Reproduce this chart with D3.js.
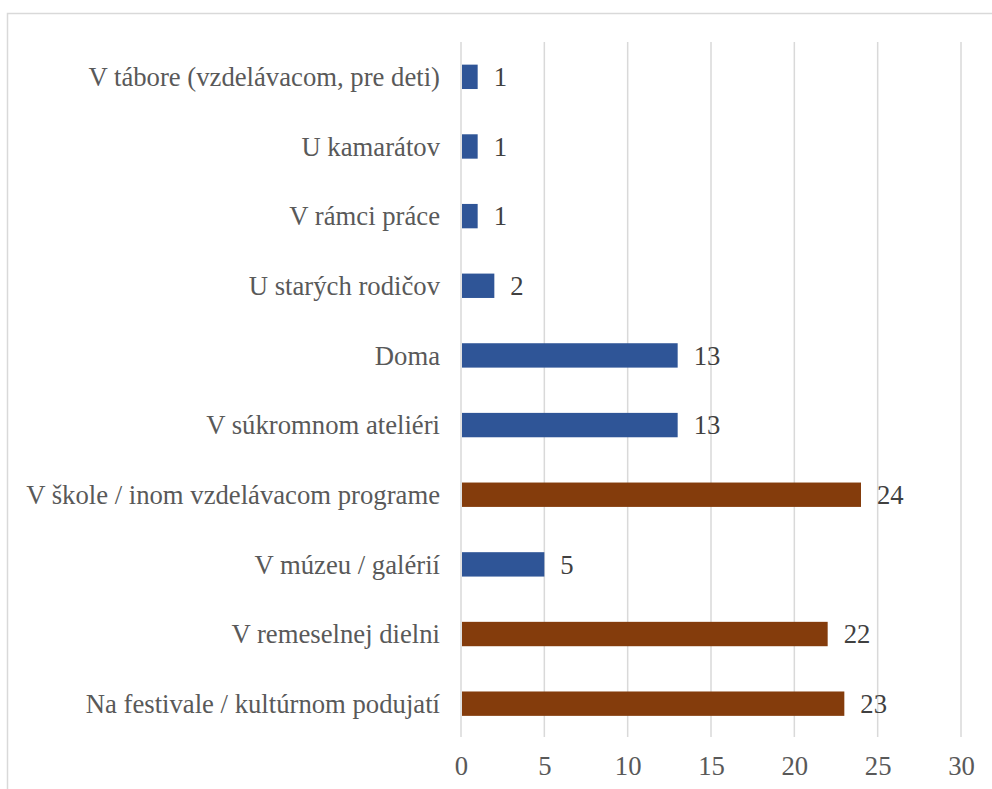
<!DOCTYPE html>
<html>
<head>
<meta charset="utf-8">
<script src="https://cdn.jsdelivr.net/npm/d3@7"></script>
</head>
<body style="margin:0">
<svg id="chart" width="992" height="789" font-family="Liberation Serif"></svg>
<script>
// categories top to bottom, as shown
var categories = [
  "V tábore (vzdelávacom, pre deti)",
  "U kamarátov",
  "V rámci práce",
  "U starých rodičov",
  "Doma",
  "V súkromnom ateliéri",
  "V škole / inom vzdelávacom programe",
  "V múzeu / galérií",
  "V remeselnej dielni",
  "Na festivale / kultúrnom podujatí"
];
var values = [1, 1, 1, 2, 13, 13, 24, 5, 22, 23];
// which bars are highlighted (brown)
var highlight = [false, false, false, false, false, false, true, false, true, true];
var xTicks = [0, 5, 10, 15, 20, 25, 30];

var width = 992, height = 789;
var margin = {top: 42, right: 31, bottom: 52, left: 461};
var fontSize = 26.7;

var svg = d3.select("#chart");

// outer chart border (cropped on right and bottom)
svg.append("rect")
  .attr("x", 7.5).attr("y", 13.5)
  .attr("width", 1000).attr("height", 1000)
  .attr("fill", "none")
  .attr("stroke", "#d9d9d9")
  .attr("stroke-width", 1.5);

var x = d3.scaleLinear()
  .domain([0, 30])
  .range([margin.left, width - margin.right]);

var y = d3.scaleBand()
  .domain(categories)
  .range([42, 738.5])
  .paddingInner(0.65)
  .paddingOuter(0.325);

// gridlines
svg.append("g")
  .selectAll("line")
  .data(xTicks)
  .enter().append("line")
    .attr("x1", d => x(d)).attr("x2", d => x(d))
    .attr("y1", 42).attr("y2", 737)
    .attr("stroke", "#d9d9d9")
    .attr("stroke-width", 1.5);

// bars
svg.append("g")
  .selectAll("rect")
  .data(categories)
  .enter().append("rect")
    .attr("x", x(0) + 1)
    .attr("y", d => y(d))
    .attr("width", (d, i) => x(values[i]) - x(0) - 1)
    .attr("height", y.bandwidth())
    .attr("fill", (d, i) => highlight[i] ? "#843c0c" : "#2f5597");

// value labels
svg.append("g")
  .selectAll("text")
  .data(categories)
  .enter().append("text")
    .attr("x", (d, i) => x(values[i]) + 16)
    .attr("y", d => y(d) + y.bandwidth() / 2)
    .attr("dy", "0.35em")
    .attr("font-family", "Liberation Serif")
    .attr("font-size", fontSize)
    .attr("fill", "#404040")
    .text((d, i) => values[i]);

// category axis labels
svg.append("g")
  .selectAll("text")
  .data(categories)
  .enter().append("text")
    .attr("x", 440)
    .attr("y", d => y(d) + y.bandwidth() / 2)
    .attr("dy", "0.35em")
    .attr("text-anchor", "end")
    .attr("font-family", "Liberation Serif")
    .attr("font-size", fontSize)
    .attr("fill", "#595959")
    .text(d => d);

// x axis labels
var xAxis = svg.append("g")
  .attr("transform", "translate(0,737)")
  .call(d3.axisBottom(x).tickValues(xTicks).tickSize(0).tickPadding(19))
  .attr("font-family", "Liberation Serif")
  .attr("font-size", fontSize);
xAxis.select(".domain").remove();
xAxis.selectAll("text")
  .attr("fill", "#595959");
</script>
</body>
</html>
